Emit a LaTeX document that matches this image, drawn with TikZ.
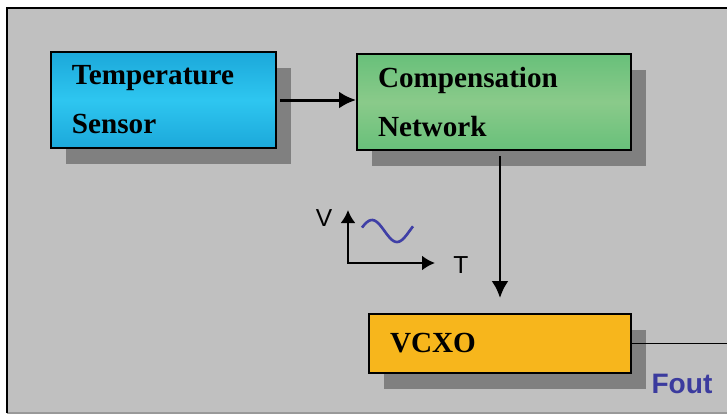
\documentclass[tikz,border=0pt]{standalone}
\usepackage{fontspec}
\setmainfont{Liberation Serif}
\setsansfont{Liberation Sans}
\usetikzlibrary{arrows.meta,positioning,calc,shadows}
\definecolor{bgray}{HTML}{C0C0C0}
\definecolor{shgray}{HTML}{808080}
\definecolor{tsdark}{HTML}{1CA8DA}
\definecolor{tslight}{HTML}{2EC6F0}
\definecolor{cndark}{HTML}{68C07A}
\definecolor{cnlight}{HTML}{8ACA8A}
\definecolor{vcxofill}{HTML}{F7B61C}
\definecolor{wave}{HTML}{3F3FA6}
\definecolor{foutblue}{HTML}{3B3B9E}

\begin{document}
\begin{tikzpicture}[
  >={Latex[length=3.4mm,width=3.4mm]},
  blk/.style={draw=black, line width=1.1pt, align=left, inner xsep=0.42cm,
              inner ysep=0pt, font=\fontsize{16.6}{27.8}\selectfont\bfseries,
              drop shadow={shadow xshift=0.3cm, shadow yshift=-0.32cm,
                           fill=shgray, opacity=1}},
  arr/.style={->, line width=1.7pt},
  axis/.style={<->, line width=1.3pt, >={Latex[length=2.6mm,width=3mm]}},
  lbl/.style={font=\fontsize{14}{16}\selectfont\sffamily},
]
\useasboundingbox (0,0) rectangle (14.54,-8.30);

% ===== frame =====
\fill[bgray] (0.14,-0.16) rectangle (14.54,-8.26);
\draw[gray!80, line width=0.6pt] (0.14,-8.26) -- (14.54,-8.26);
\draw[line width=1.4pt] (0.14,-8.26) |- (14.54,-0.16);

% ===== blocks =====
\node[blk, text width=3.66cm, minimum height=1.92cm,
      top color=tsdark, bottom color=tsdark, middle color=tslight]
  (ts) at (3.27,-2.00) {Temperature\\Sensor};
\node[blk, text width=4.64cm, minimum height=1.92cm,
      top color=cndark, bottom color=cndark, middle color=cnlight]
  (cn) at (9.88,-2.04) {Compensation\\Network};
\node[blk, text width=4.40cm, minimum height=1.18cm, fill=vcxofill]
  (vcxo) at (10.00,-6.87) {VCXO};

% ===== connectors =====
\draw[arr, shorten <=0.06cm] (ts.east) -- (ts.east -| cn.west);
\draw[arr, shorten <=0.1cm, shorten >=0.3cm] (vcxo.north |- cn.south) -- (vcxo.north);
\coordinate (fend) at (14.60,-6.87);
\draw[line width=1pt] (vcxo.east) -- (fend);
\node[font=\fontsize{16}{18}\selectfont\sffamily\bfseries, text=foutblue]
  (fout) at (13.64,-7.68) {Fout};

% ===== V-T sketch =====
\coordinate (org) at (6.96,-5.26);
\coordinate (vtip) at (6.96,-4.20);
\coordinate (ttip) at (8.70,-5.26);
\draw[axis] (vtip) -- (org) -- (ttip);
\node[lbl] (vl) at (6.48,-4.36) {V};
\node[lbl] (tl) at (9.22,-5.30) {T};
\draw[wave, line width=1.5pt, smooth, samples=30, domain=7.24:8.26]
  plot (\x, {-4.62 + 0.22*cos((\x-7.44)*360)});

\end{tikzpicture}
\end{document}
